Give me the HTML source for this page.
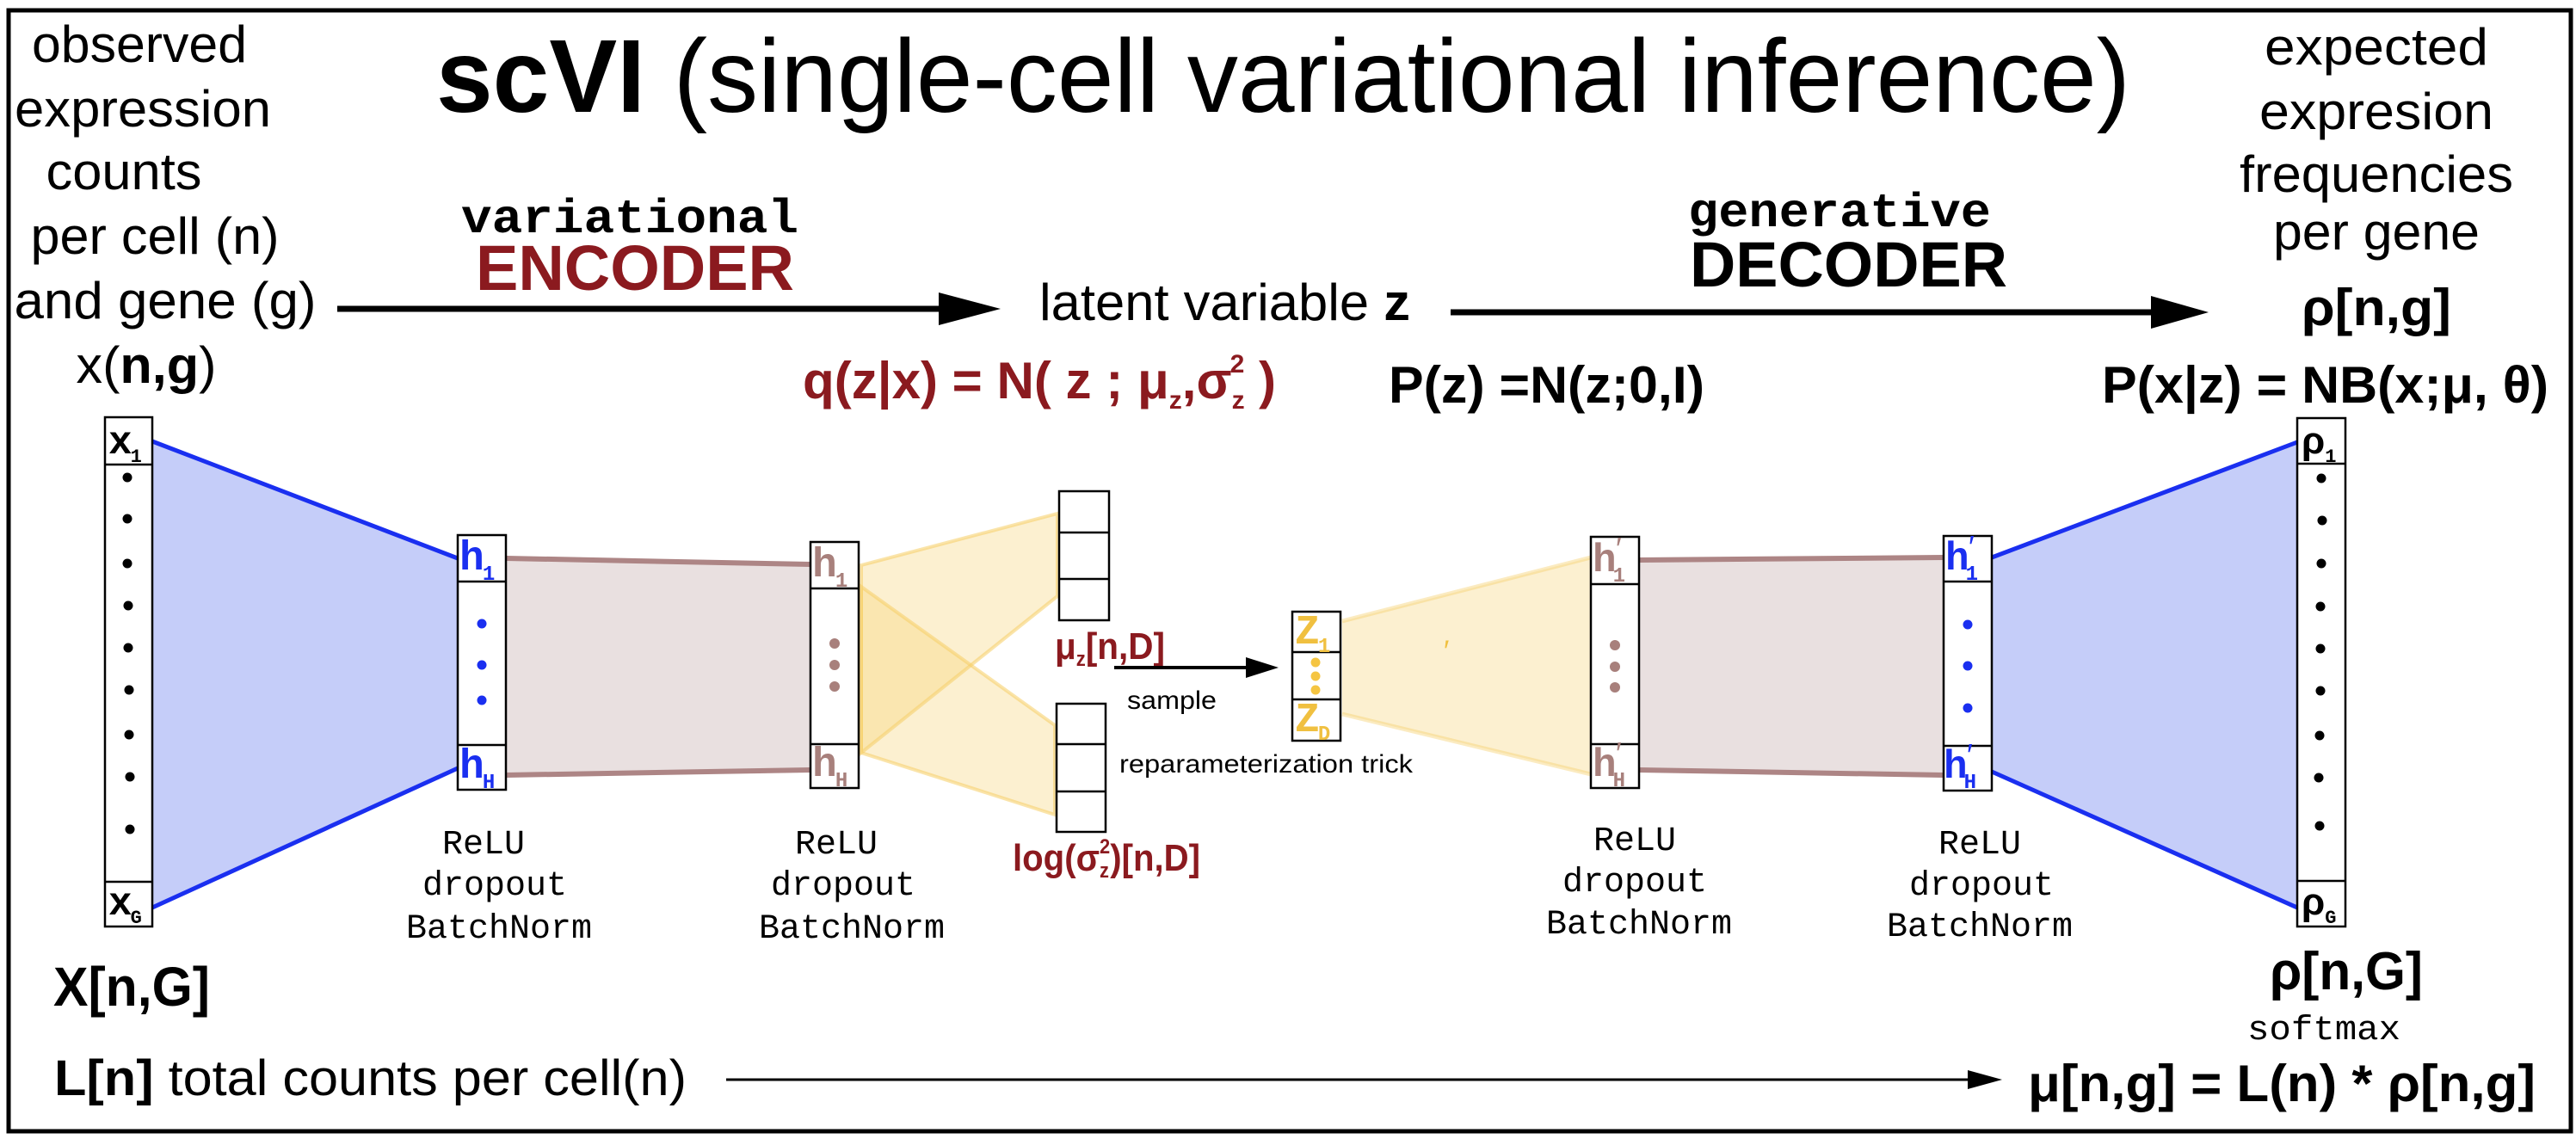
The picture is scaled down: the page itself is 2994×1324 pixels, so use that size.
<!DOCTYPE html>
<html><head><meta charset="utf-8"><style>
html,body{margin:0;padding:0;background:#fff;}
svg{display:block;}
.s{font-family:"Liberation Sans",sans-serif;}
.m{font-family:"Liberation Mono",monospace;}
</style></head><body>
<svg width="2994" height="1324" viewBox="0 0 2994 1324" xmlns="http://www.w3.org/2000/svg">
<rect x="0" y="0" width="2994" height="1324" fill="#fff"/>
<rect x="10" y="12" width="2978" height="1303" fill="none" stroke="#000" stroke-width="5"/>

<text class="s" x="507" y="130" font-size="121" textLength="1969" lengthAdjust="spacingAndGlyphs"><tspan font-weight="bold">scVI</tspan> (single-cell variational inference)</text>

<g class="s" font-size="60" text-anchor="middle">
<text x="162" y="72" textLength="250" lengthAdjust="spacingAndGlyphs">observed</text>
<text x="166" y="147" textLength="298" lengthAdjust="spacingAndGlyphs">expression</text>
<text x="144" y="220" textLength="181" lengthAdjust="spacingAndGlyphs">counts</text>
<text x="180" y="295" textLength="289" lengthAdjust="spacingAndGlyphs">per cell (n)</text>
<text x="192" y="370" textLength="351" lengthAdjust="spacingAndGlyphs">and gene (g)</text>
<text x="170" y="445" textLength="163" lengthAdjust="spacingAndGlyphs">x(<tspan font-weight="bold">n,g</tspan>)</text>
</g>

<text class="m" x="536" y="270" font-size="56" font-weight="bold" textLength="392" lengthAdjust="spacingAndGlyphs">variational</text>
<text class="s" x="553" y="337" font-size="74" font-weight="bold" fill="#8b1a1f" textLength="370" lengthAdjust="spacingAndGlyphs">ENCODER</text>
<line x1="392" y1="359" x2="1095" y2="359" stroke="#000" stroke-width="7"/>
<polygon points="1091,340 1163,359 1091,378" fill="#000"/>
<text class="s" x="1208" y="372" font-size="60" textLength="431" lengthAdjust="spacingAndGlyphs">latent variable <tspan font-weight="bold">z</tspan></text>
<text class="s" x="933" y="463" font-size="60" font-weight="bold" fill="#8b1a1f" textLength="550" lengthAdjust="spacingAndGlyphs">q(z|x) = N( z ; μ<tspan font-size="30" dy="12">z</tspan><tspan dy="-12">,σ</tspan><tspan font-size="30" dy="12">z</tspan><tspan font-size="30" dx="-17" dy="-42">2</tspan><tspan dy="30"> )</tspan></text>

<text class="m" x="1962" y="263" font-size="56" font-weight="bold" textLength="352" lengthAdjust="spacingAndGlyphs">generative</text>
<text class="s" x="1964" y="333" font-size="74" font-weight="bold" textLength="369" lengthAdjust="spacingAndGlyphs">DECODER</text>
<line x1="1686" y1="363" x2="2505" y2="363" stroke="#000" stroke-width="7"/>
<polygon points="2500,344 2567,363 2500,382" fill="#000"/>
<text class="s" x="1614" y="468" font-size="60" font-weight="bold" textLength="367" lengthAdjust="spacingAndGlyphs">P(z) =N(z;0,I)</text>
<text class="s" x="2443" y="468" font-size="60" font-weight="bold" textLength="519" lengthAdjust="spacingAndGlyphs">P(x|z) = NB(x;μ, θ)</text>

<g class="s" font-size="60" text-anchor="middle">
<text x="2762" y="75" textLength="260" lengthAdjust="spacingAndGlyphs">expected</text>
<text x="2762" y="150" textLength="272" lengthAdjust="spacingAndGlyphs">expresion</text>
<text x="2762" y="223" textLength="318" lengthAdjust="spacingAndGlyphs">frequencies</text>
<text x="2762" y="290" textLength="240" lengthAdjust="spacingAndGlyphs">per gene</text>
<text x="2762" y="378" font-weight="bold" textLength="174" lengthAdjust="spacingAndGlyphs">ρ[n,g]</text>
</g>

<polygon points="177,513 532,649 532,893 177,1055" fill="#c5cdf9"/>
<line x1="177" y1="513" x2="532" y2="649" stroke="#1a2ff0" stroke-width="5"/>
<line x1="177" y1="1055" x2="532" y2="893" stroke="#1a2ff0" stroke-width="5"/>
<polygon points="588,649 942,656 942,895 588,901" fill="#e9e0e0"/>
<line x1="588" y1="649" x2="942" y2="656" stroke="#ad8585" stroke-width="6"/>
<line x1="588" y1="901" x2="942" y2="895" stroke="#ad8585" stroke-width="6"/>
<g fill="rgba(247,208,110,0.32)" stroke="rgba(245,205,100,0.55)" stroke-width="4">
<polygon points="1001,657 1229,597 1229,693 1001,875"/>
<polygon points="1001,682 1226,843 1226,947 1001,875"/>
<polygon points="1560,722 1849,648 1849,900 1560,830" stroke="none"/>
</g>
<line x1="1560" y1="722" x2="1849" y2="648" stroke="rgba(245,205,100,0.4)" stroke-width="5"/>
<line x1="1560" y1="830" x2="1849" y2="900" stroke="rgba(245,205,100,0.4)" stroke-width="5"/>
<text class="s" x="1678" y="768" font-size="34" fill="#f0c040">′</text>
<polygon points="1905,651 2259,648 2259,901 1905,895" fill="#e9e0e0"/>
<line x1="1905" y1="651" x2="2259" y2="648" stroke="#ad8585" stroke-width="6"/>
<line x1="1905" y1="895" x2="2259" y2="901" stroke="#ad8585" stroke-width="6"/>
<polygon points="2315,648 2670,514 2670,1055 2315,897" fill="#c5cdf9"/>
<line x1="2315" y1="648" x2="2670" y2="514" stroke="#1a2ff0" stroke-width="5"/>
<line x1="2315" y1="897" x2="2670" y2="1055" stroke="#1a2ff0" stroke-width="5"/>

<g fill="#fff" stroke="#000" stroke-width="2.5">
<rect x="122" y="485" width="55" height="592"/>
<line x1="122" y1="540" x2="177" y2="540"/><line x1="122" y1="1025" x2="177" y2="1025"/>
<rect x="532" y="622" width="56" height="296"/>
<line x1="532" y1="676" x2="588" y2="676"/><line x1="532" y1="866" x2="588" y2="866"/>
<rect x="942" y="630" width="56" height="286"/>
<line x1="942" y1="684" x2="998" y2="684"/><line x1="942" y1="865" x2="998" y2="865"/>
<rect x="1231" y="571" width="58" height="150"/>
<line x1="1231" y1="619" x2="1289" y2="619"/><line x1="1231" y1="673" x2="1289" y2="673"/>
<rect x="1228" y="818" width="57" height="149"/>
<line x1="1228" y1="865" x2="1285" y2="865"/><line x1="1228" y1="920" x2="1285" y2="920"/>
<rect x="1502" y="711" width="56" height="150"/>
<line x1="1502" y1="758" x2="1558" y2="758"/><line x1="1502" y1="813" x2="1558" y2="813"/>
<rect x="1849" y="624" width="56" height="292"/>
<line x1="1849" y1="679" x2="1905" y2="679"/><line x1="1849" y1="865" x2="1905" y2="865"/>
<rect x="2259" y="623" width="56" height="296"/>
<line x1="2259" y1="676" x2="2315" y2="676"/><line x1="2259" y1="867" x2="2315" y2="867"/>
<rect x="2670" y="486" width="56" height="591"/>
<line x1="2670" y1="539" x2="2726" y2="539"/><line x1="2670" y1="1024" x2="2726" y2="1024"/>
</g>

<g fill="#000">
<circle cx="148" cy="555" r="5.5"/><circle cx="148" cy="603" r="5.5"/><circle cx="148" cy="655" r="5.5"/><circle cx="149" cy="704" r="5.5"/><circle cx="149" cy="753" r="5.5"/><circle cx="150" cy="802" r="5.5"/><circle cx="150" cy="854" r="5.5"/><circle cx="151" cy="903" r="5.5"/><circle cx="151" cy="964" r="5.5"/>
<circle cx="2698" cy="556" r="5.5"/><circle cx="2699" cy="605" r="5.5"/><circle cx="2698" cy="655" r="5.5"/><circle cx="2697" cy="705" r="5.5"/><circle cx="2697" cy="754" r="5.5"/><circle cx="2697" cy="803" r="5.5"/><circle cx="2696" cy="855" r="5.5"/><circle cx="2695" cy="904" r="5.5"/><circle cx="2696" cy="960" r="5.5"/>
</g>
<g fill="#1a2ff0"><circle cx="560" cy="725" r="5.5"/><circle cx="560" cy="773" r="5.5"/><circle cx="560" cy="814" r="5.5"/>
<circle cx="2287" cy="726" r="5.5"/><circle cx="2287" cy="774" r="5.5"/><circle cx="2287" cy="823" r="5.5"/></g>
<g fill="#a8807c"><circle cx="970" cy="748" r="6"/><circle cx="970" cy="773" r="6"/><circle cx="970" cy="798" r="6"/>
<circle cx="1877" cy="750" r="6"/><circle cx="1877" cy="775" r="6"/><circle cx="1877" cy="799" r="6"/></g>
<g fill="#f5c542"><circle cx="1529" cy="770" r="5.5"/><circle cx="1529" cy="786" r="5.5"/><circle cx="1529" cy="802" r="5.5"/></g>

<g class="m" font-weight="bold">
<text x="126" y="527" font-size="46">x<tspan font-size="22" dx="-2" dy="10">1</tspan></text>
<text x="126" y="1063" font-size="46">x<tspan font-size="22" dx="-2" dy="10">G</tspan></text>
<text x="2675" y="527" font-size="44" class="s">ρ<tspan font-size="22" dy="10" class="m">1</tspan></text>
<text x="2675" y="1063" font-size="44" class="s">ρ<tspan font-size="22" dy="10" class="m">G</tspan></text>
<g fill="#1a2ff0">
<text x="534" y="662" font-size="48">h<tspan font-size="24" dx="-2" dy="12">1</tspan></text>
<text x="534" y="904" font-size="48">h<tspan font-size="24" dx="-2" dy="12">H</tspan></text>
<text x="2261" y="662" font-size="46">h<tspan font-size="24" dx="-4" dy="12">1</tspan></text>
<text x="2288" y="648" font-size="36" font-weight="normal" class="s">′</text>
<text x="2259" y="904" font-size="46">h<tspan font-size="24" dx="-4" dy="12">H</tspan></text>
<text x="2286" y="890" font-size="36" font-weight="normal" class="s">′</text>
</g>
<g fill="#a8807c">
<text x="944" y="670" font-size="48">h<tspan font-size="24" dx="-2" dy="12">1</tspan></text>
<text x="944" y="902" font-size="48">h<tspan font-size="24" dx="-2" dy="12">H</tspan></text>
<text x="1851" y="664" font-size="46">h<tspan font-size="24" dx="-4" dy="12">1</tspan></text>
<text x="1878" y="650" font-size="36" font-weight="normal" class="s">′</text>
<text x="1851" y="902" font-size="46">h<tspan font-size="24" dx="-4" dy="12">H</tspan></text>
<text x="1878" y="888" font-size="36" font-weight="normal" class="s">′</text>
</g>
<g fill="#f0c040">
<text x="1505" y="748" font-size="48">Z<tspan font-size="24" dx="-2" dy="10">1</tspan></text>
<text x="1505" y="850" font-size="48">Z<tspan font-size="24" dx="-2" dy="10">D</tspan></text>
</g>
</g>

<text class="s" x="1226" y="766" font-size="44" font-weight="bold" fill="#8b1a1f" textLength="128" lengthAdjust="spacingAndGlyphs">μ<tspan font-size="24" dy="8">z</tspan><tspan dy="-8">[n,D]</tspan></text>
<text class="s" x="1177" y="1012" font-size="44" font-weight="bold" fill="#8b1a1f" textLength="218" lengthAdjust="spacingAndGlyphs">log(σ<tspan font-size="24" dy="8">z</tspan><tspan font-size="24" dx="-12" dy="-28">2</tspan><tspan dy="20">)[n,D]</tspan></text>
<line x1="1295" y1="776" x2="1460" y2="776" stroke="#000" stroke-width="4"/>
<polygon points="1448,764 1486,776 1448,788" fill="#000"/>
<text class="s" x="1310" y="824" font-size="30" textLength="104" lengthAdjust="spacingAndGlyphs">sample</text>
<text class="s" x="1301" y="898" font-size="30" textLength="341" lengthAdjust="spacingAndGlyphs">reparameterization trick</text>

<g class="m" font-size="40" text-anchor="middle">
<text x="562" y="992">ReLU</text><text x="575" y="1040">dropout</text><text x="580" y="1090">BatchNorm</text>
<text x="972" y="992">ReLU</text><text x="980" y="1040">dropout</text><text x="990" y="1090">BatchNorm</text>
<text x="1900" y="988">ReLU</text><text x="1900" y="1036">dropout</text><text x="1905" y="1085">BatchNorm</text>
<text x="2301" y="992">ReLU</text><text x="2303" y="1040">dropout</text><text x="2301" y="1088">BatchNorm</text>
</g>

<text class="s" x="62" y="1169" font-size="64" font-weight="bold" textLength="182" lengthAdjust="spacingAndGlyphs">X[n,G]</text>
<text class="s" x="63" y="1273" font-size="58" textLength="735" lengthAdjust="spacingAndGlyphs"><tspan font-weight="bold">L[n]</tspan> total counts per cell(n)</text>
<line x1="844" y1="1255" x2="2290" y2="1255" stroke="#000" stroke-width="3"/>
<polygon points="2287,1244 2327,1255 2287,1266" fill="#000"/>
<text class="s" x="2638" y="1150" font-size="62" font-weight="bold" textLength="178" lengthAdjust="spacingAndGlyphs">ρ[n,G]</text>
<text class="m" x="2612" y="1208" font-size="40" textLength="178" lengthAdjust="spacingAndGlyphs">softmax</text>
<text class="s" x="2357" y="1280" font-size="60" font-weight="bold" textLength="590" lengthAdjust="spacingAndGlyphs">μ[n,g] = L(n) * ρ[n,g]</text>
</svg>
</body></html>
